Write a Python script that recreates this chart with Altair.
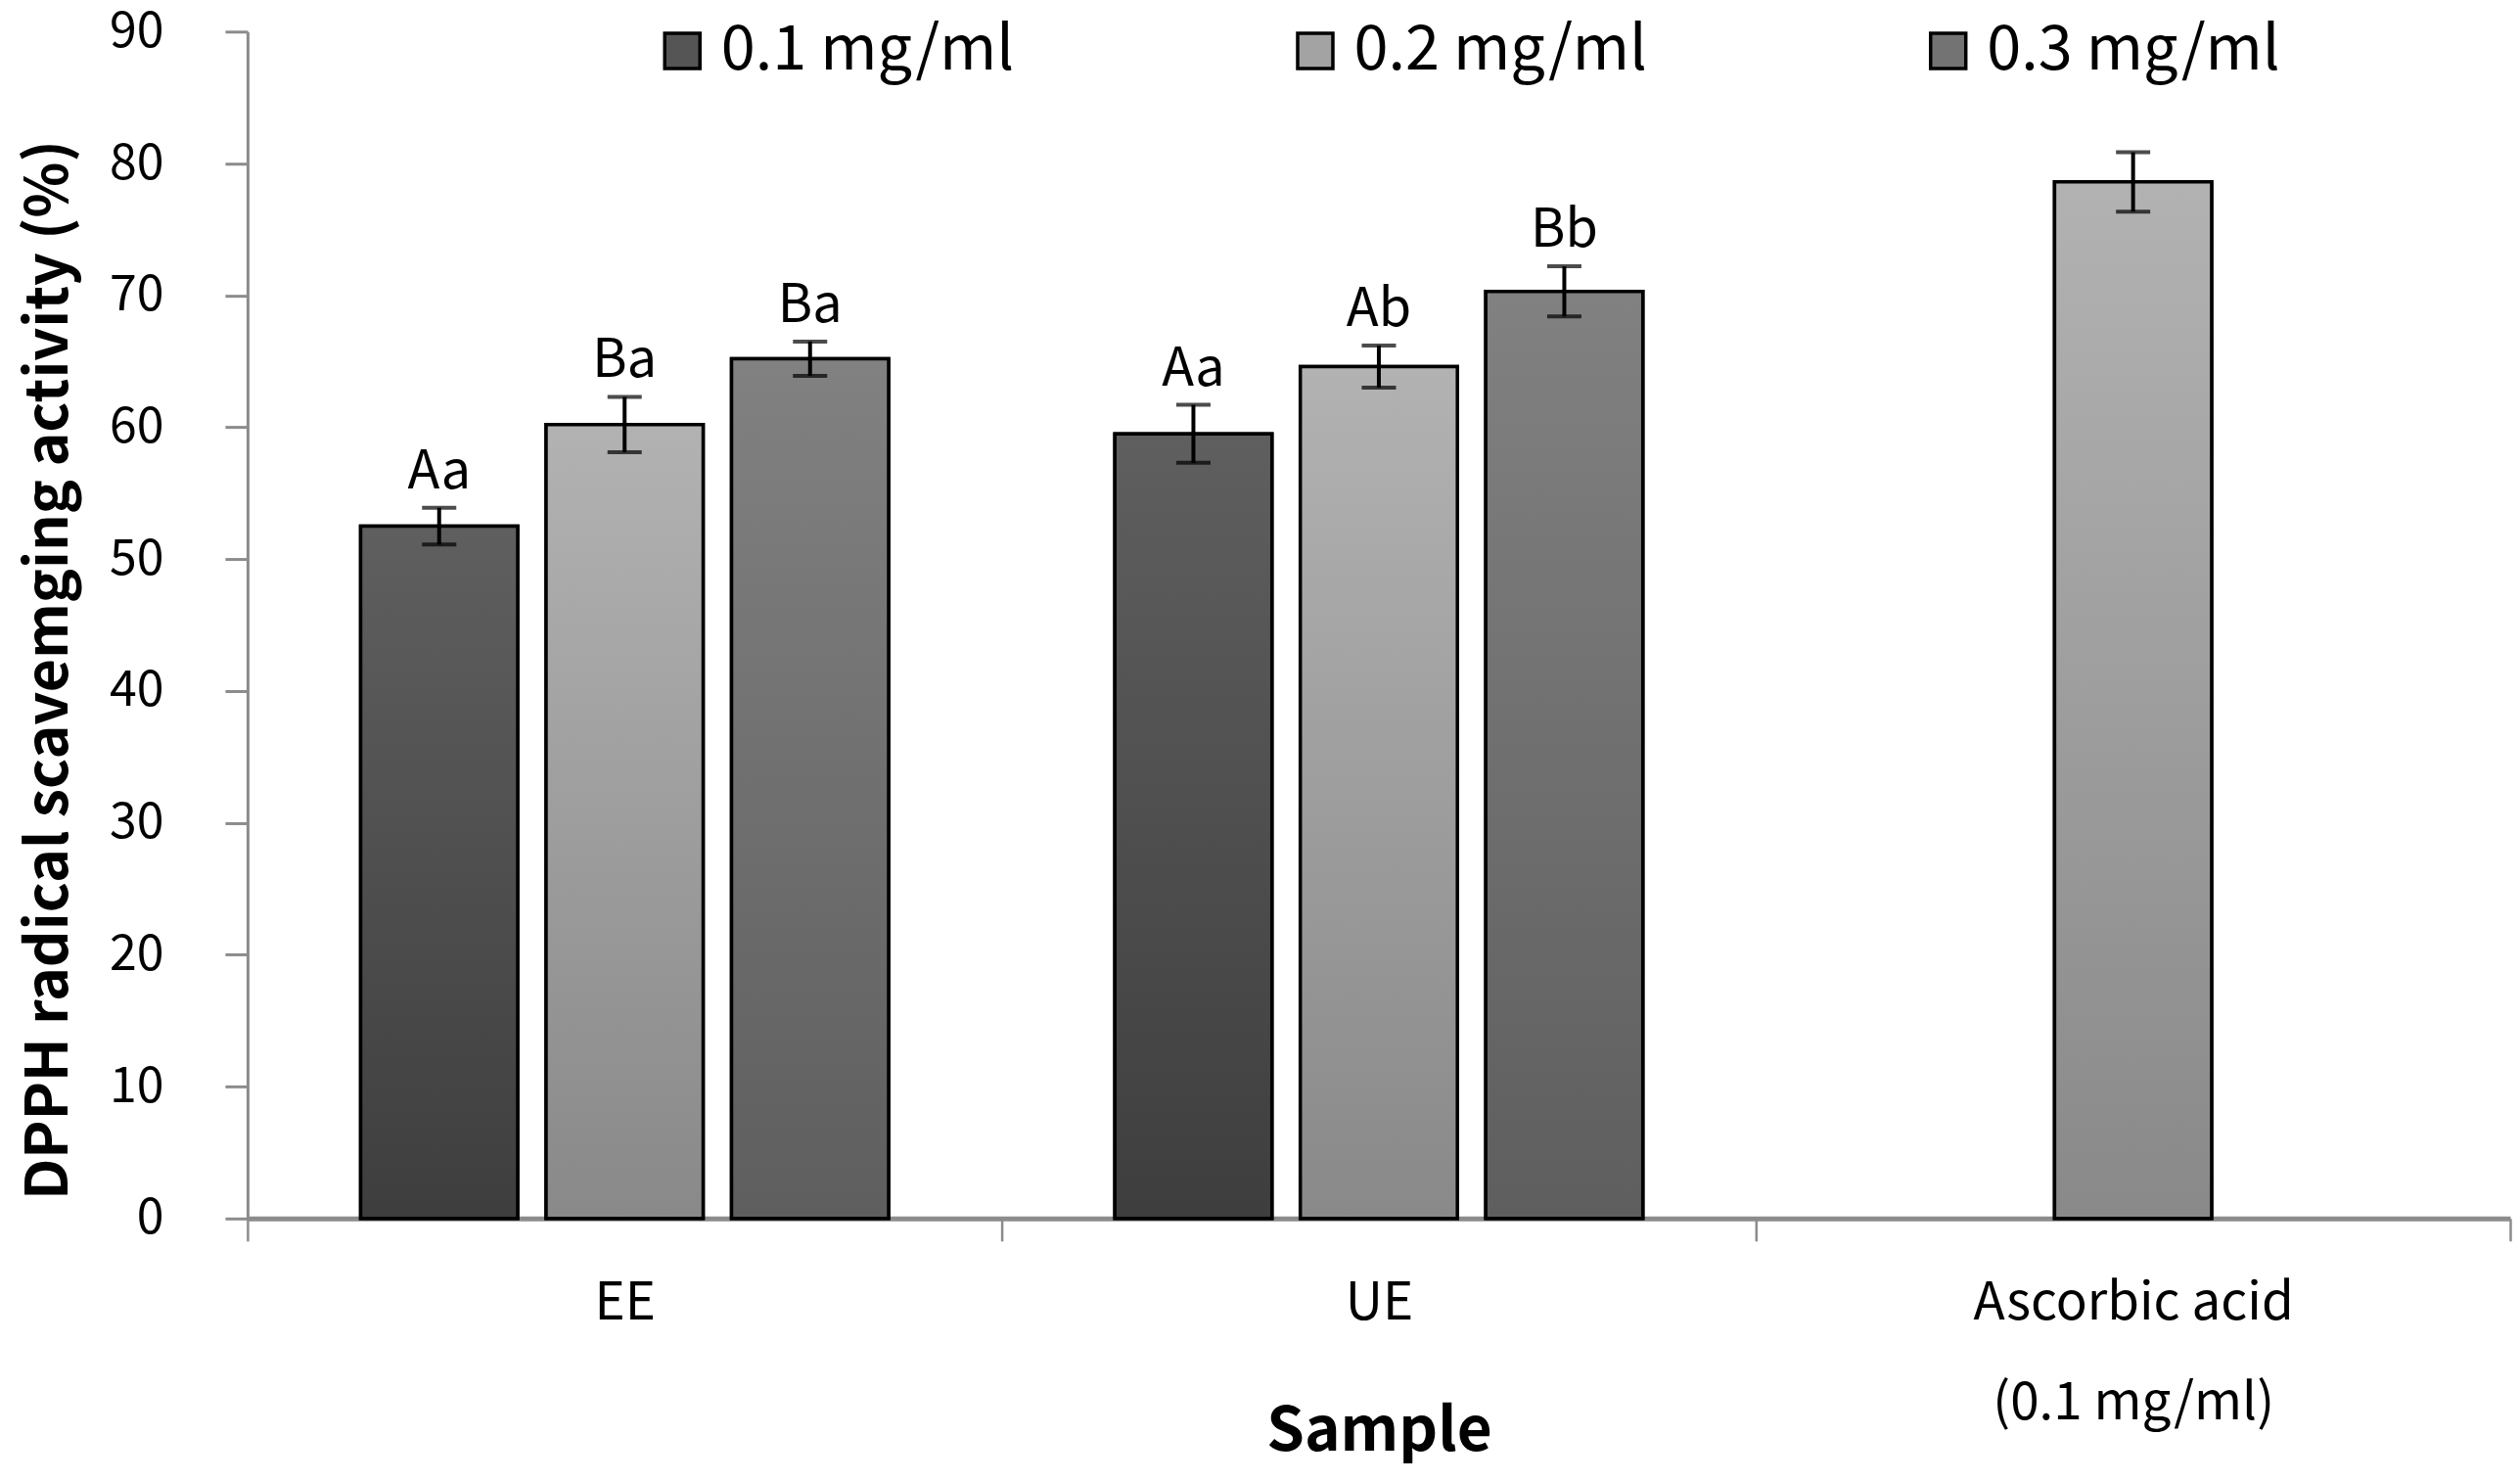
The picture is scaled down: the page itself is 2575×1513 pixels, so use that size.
import altair as alt
import pandas as pd

FONT = "Noto Sans CJK KR"

# ---- data ----
samples = ["EE", "EE", "EE", "UE", "UE", "UE", "Ascorbic acid|(0.1 mg/ml)"]
series = ["0.1 mg/ml", "0.2 mg/ml", "0.3 mg/ml",
          "0.1 mg/ml", "0.2 mg/ml", "0.3 mg/ml", "0.2 mg/ml"]
values = [52.5, 60.2, 65.2, 59.5, 64.6, 70.3, 78.6]
errors = [1.4, 2.1, 1.3, 2.2, 1.6, 1.9, 2.25]
letters = ["Aa", "Ba", "Ba", "Aa", "Ab", "Bb", ""]
category_order = ["EE", "UE", "Ascorbic acid|(0.1 mg/ml)"]
series_order = ["0.1 mg/ml", "0.2 mg/ml", "0.3 mg/ml"]
y_ticks = list(range(0, 91, 10))

df = pd.DataFrame({"sample": samples, "series": series, "value": values,
                   "err": errors, "letter": letters})

# ---- styles ----
legend_colors = ["#555555", "#a3a3a3", "#737373"]
gradients = {
    "0.1 mg/ml": ("#5f5f5f", "#3e3e3e"),
    "0.2 mg/ml": ("#b2b2b2", "#898989"),
    "0.3 mg/ml": ("#818181", "#5e5e5e"),
}
W, H = 2313, 1213
YTITLE = "DPPH radical scavemging activity (%)"

x_enc = alt.X("sample:N", sort=category_order,
              scale=alt.Scale(domain=category_order, paddingInner=0, paddingOuter=0),
              title="Sample",
              axis=alt.Axis(labelExpr="split(datum.label, '|')", labelAngle=0,
                            labelFont=FONT, labelFontSize=53, labelColor="black",
                            labelPadding=38, labelLineHeight=102, labelBaseline="top",
                            labelLimit=1000,
                            tickBand="extent", tickSize=23, tickColor="#8c8c8c",
                            tickWidth=2.5, domainColor="#8c8c8c", domainWidth=5,
                            grid=False, titleFont=FONT, titleFontSize=62,
                            titleFontWeight="bold", titleColor="black",
                            titleY=218, titleBaseline="middle"))
x_plain = alt.X("sample:N", sort=category_order, title="Sample")
xo_enc = alt.XOffset("series:N", sort=series_order,
                     scale=alt.Scale(domain=series_order, paddingInner=0.153,
                                     paddingOuter=0.61))
y_enc = alt.Y("value:Q", scale=alt.Scale(domain=[0, 90], nice=False),
              title=YTITLE,
              axis=alt.Axis(values=y_ticks, labelFont=FONT, labelFontSize=50,
                            labelColor="black", labelPadding=63, tickSize=23,
                            tickColor="#8c8c8c", tickWidth=3,
                            domainColor="#8c8c8c", domainWidth=3, grid=False,
                            titleFont=FONT, titleFontSize=59, titleFontWeight="bold",
                            titleColor="black", titleX=-202, titleY=652,
                            titleAlign="center", titleBaseline="middle",
                            titleLimit=2000))
y_plain = alt.Y("value:Q", title=YTITLE)

base = alt.Chart(df).transform_calculate(
    lo="datum.value - datum.err", hi="datum.value + datum.err")

legend_bars = base.mark_bar(stroke="black", strokeWidth=3.5).encode(
    x=x_enc, xOffset=xo_enc, y=y_enc,
    fill=alt.Fill("series:N", sort=series_order,
                  scale=alt.Scale(domain=series_order, range=legend_colors),
                  legend=alt.Legend(title=None, orient="none", legendX=413, legendY=-12,
                                    direction="horizontal", symbolType="square",
                                    symbolSize=1296, symbolStrokeColor="black",
                                    symbolStrokeWidth=3.5, labelFont=FONT,
                                    labelFontSize=63, labelColor="black",
                                    labelOffset=8, columnPadding=276, padding=0,
                                    labelLimit=1000)))

grad_layers = []
for s in series_order:
    top, bottom = gradients[s]
    grad = alt.LinearGradient(gradient="linear", x1=0, y1=0, x2=0, y2=1,
                              stops=[alt.GradientStop(color=top, offset=0),
                                     alt.GradientStop(color=bottom, offset=1)])
    grad_layers.append(
        base.transform_filter(alt.datum.series == s)
        .mark_bar(fill=grad, stroke="black", strokeWidth=3.5)
        .encode(x=x_plain, xOffset=xo_enc, y=y_plain))

err_rule = base.mark_rule(color="black", strokeWidth=4).encode(
    x=x_plain, xOffset=xo_enc, y=alt.Y("lo:Q", title=YTITLE), y2="hi:Q")
cap_lo = base.mark_tick(color="black", size=35, thickness=4).encode(
    x=x_plain, xOffset=xo_enc, y=alt.Y("lo:Q", title=YTITLE))
cap_hi = base.mark_tick(color="black", size=35, thickness=4).encode(
    x=x_plain, xOffset=xo_enc, y=alt.Y("hi:Q", title=YTITLE))
labels = base.mark_text(font=FONT, fontSize=54, color="black", baseline="alphabetic",
                        dy=-20).encode(
    x=x_plain, xOffset=xo_enc, y=alt.Y("hi:Q", title=YTITLE), text="letter:N")

chart = alt.layer(legend_bars, *grad_layers, err_rule, cap_lo, cap_hi, labels).properties(
    width=W, height=H,
    autosize=alt.AutoSizeParams(type="none"),
    padding={"left": 245, "top": 24, "right": 2, "bottom": 260},
    background="white",
).configure_view(stroke=None)

chart.save("out.html", embed_options={"renderer": "svg", "actions": False})
